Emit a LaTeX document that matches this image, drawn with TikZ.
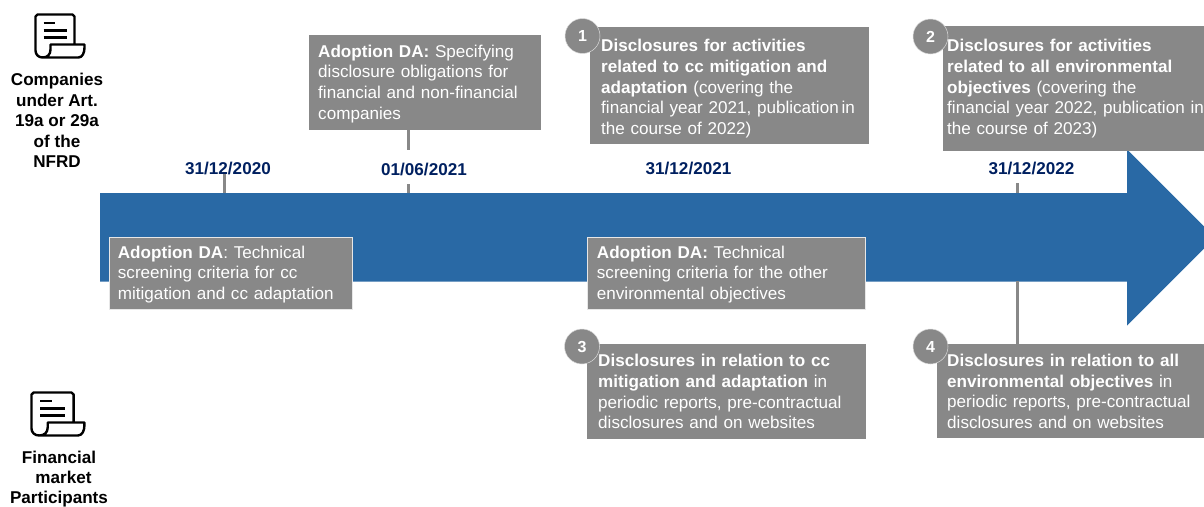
\documentclass[tikz,border=0pt]{standalone}
\usepackage{fontspec}
\setmainfont{Liberation Sans}

\definecolor{barblue}{HTML}{2969A5}
\definecolor{boxgrey}{HTML}{888888}
\definecolor{datenavy}{HTML}{002060}

\newcommand{\firstline}[1]{\rule{0pt}{#1}}

\tikzset{
  greybox/.style={
    anchor=north west,
    fill=boxgrey,
    text=white,
    font=\fontsize{17.1}{20.6}\selectfont,
    align=left,
    inner ysep=0pt
  },
  daybox/.style={greybox, draw=white!80!boxgrey, line width=0.8pt},
  datelabel/.style={text=datenavy, inner sep=0pt, font=\fontsize{17.1}{20.6}\selectfont\bfseries},
  numdot/.style={
    circle,
    fill=boxgrey,
    draw=white!70!boxgrey,
    line width=0.5pt,
    minimum size=35pt,
    inner sep=0pt,
    text=white,
    font=\fontsize{16}{16}\selectfont\bfseries
  },
  actor/.style={align=center, inner sep=0pt, font=\fontsize{17.1}{20.6}\selectfont\bfseries},
  tick/.style={draw=boxgrey, line width=3pt},
  scrollicon/.pic={
    \draw[line width=2.4pt, line join=round, pic actions]
      (39,30) -- (39,2) -- (37,0) -- (2,0) -- (0,2) -- (0,36)
      .. controls (0,40) and (3,43) .. (7,43) -- (43,43)
      .. controls (47,43) and (49,38) .. (49,33) -- (49,30) -- (15,30) -- (15,35)
      .. controls (15,40) and (12,43) .. (7,43);
    \draw[line width=2.2pt, pic actions] (8,8.5) -- (19,8.5);
    \draw[line width=2.2pt, pic actions] (8,16) -- (31,16);
    \draw[line width=2.2pt, pic actions] (8,23) -- (31,23);
  }
}

\begin{document}
\begin{tikzpicture}[x=1pt, y=-1pt]
\path[use as bounding box, clip] (0,0) rectangle (1204,506);

% timeline
\fill[barblue] (100,193) -- (1127,193) -- (1127,149.5) -- (1215,237.5) -- (1127,325.5) -- (1127,281.5) -- (100,281.5) -- cycle;

\coordinate (tick2020) at (224,193);
\coordinate (tick2021) at (408,193);
\coordinate (tick2022) at (1017,193);
\coordinate (foot2022) at (1017,281);
\coordinate (top2020) at (224,172);
\coordinate (gap2021) at (408,150);
\coordinate (low2021) at (408,184);
\coordinate (low2022) at (1017,183);

\node[daybox, inner xsep=8.5pt, text width=226pt, minimum height=72pt] (dagreen) at (109,237)
  {\firstline{14.5pt}\textbf{Adoption DA}: Technical\\screening criteria for cc\\mitigation and cc adaptation};
\node[daybox, inner xsep=10pt, text width=258pt, minimum height=72pt] (daother) at (586.5,237)
  {\firstline{14.5pt}\textbf{Adoption DA:} Technical\\screening criteria for the other\\environmental objectives};
\node[greybox, inner xsep=9pt, text width=214pt, minimum height=95pt] (dadisc) at (309,35)
  {\firstline{14.5pt}\textbf{Adoption DA:} Specifying\\disclosure obligations for\\financial and non-financial\\companies};
\node[greybox, inner xsep=11pt, text width=257pt, minimum height=117pt] (first) at (590,27)
  {\firstline{18.5pt}\textbf{Disclosures for activities}\\\textbf{related to cc mitigation and}\\\textbf{adaptation} (covering the\\financial year 2021, publication\,in\\the course of 2022)};
\node[greybox, inner xsep=4pt, text width=275pt, minimum height=125pt] (second) at (943,26)
  {\textbf{Disclosures for activities}\\\textbf{related to all environmental}\\\textbf{objectives} (covering the\\financial year 2022, publication in\\the course of 2023)};
\node[greybox, inner xsep=11pt, text width=257pt, minimum height=95pt] (third) at (587,344)
  {\textbf{Disclosures in relation to cc}\\\textbf{mitigation and adaptation} in\\periodic reports, pre-contractual\\disclosures and on websites};
\node[greybox, inner xsep=10pt, text width=258pt, minimum height=94pt] (fourth) at (937,344)
  {\textbf{Disclosures in relation to all}\\\textbf{environmental objectives} in\\periodic reports, pre-contractual\\disclosures and on websites};

\draw[tick] (top2020) -- (tick2020);
\draw[tick] (dadisc.south -| gap2021) -- (gap2021);
\draw[tick] (low2021) -- (tick2021);
\draw[tick] (low2022) -- (tick2022);
\draw[tick] (fourth.north -| foot2022) -- (foot2022);

\node[datelabel] (date2020) at (228,168.5) {31/12/2020};
\node[datelabel] (date2021) at (424,169.5) {01/06/2021};
\node[datelabel] (date2021b) at (688.5,168.5) {31/12/2021};
\node[datelabel] (date2022) at (1031.5,168.5) {31/12/2022};

\node[numdot] (one) at (582.5,36) {1};
\node[numdot] (two) at (930.5,36.5) {2};
\node[numdot] (three) at (582,346.5) {3};
\node[numdot] (four) at (930.5,346.5) {4};

% actors
\pic at (35.5,14.5) {scrollicon};
\pic[xscale=1.08] at (31.5,392.5) {scrollicon};
\node[actor] (companies) at (57,120.5) {Companies\\under Art.\\19a or 29a\\of the\\NFRD};
\node[actor, font=\fontsize{17.1}{20}\selectfont\bfseries] (participants) at (59,479.5) {Financial\\\hspace*{9pt}market\\Participants};
\end{tikzpicture}
\end{document}
